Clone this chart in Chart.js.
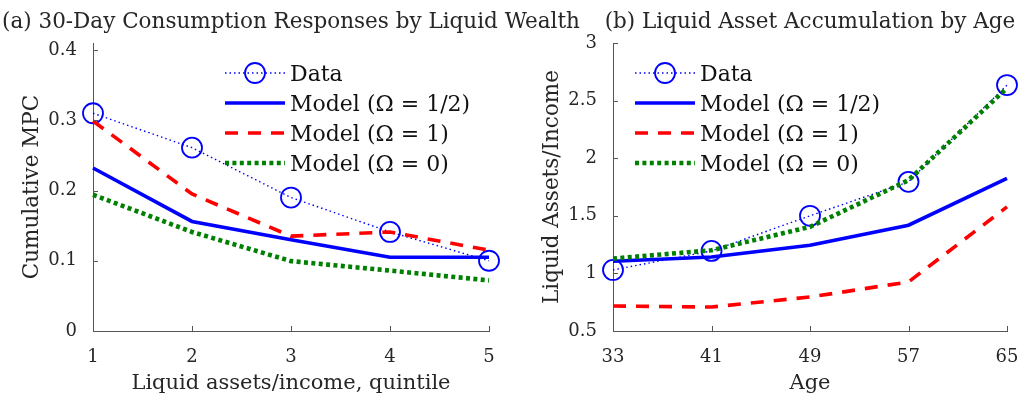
<!DOCTYPE html>
<html>
<head>
<meta charset="utf-8">
<script src="https://cdn.jsdelivr.net/npm/chart.js@4"></script>
<style>
  html, body { margin: 0; padding: 0; background: #fff; }
  body { width: 1019px; height: 394px; position: relative; overflow: hidden; }
  .panel { position: absolute; top: 0; height: 394px; }
  #panelA { left: 0; width: 600px; }
  #panelB { left: 510px; width: 509px; }
</style>
</head>
<body>
<div class="panel" id="panelA"><canvas id="chartA" width="600" height="394"></canvas></div>
<div class="panel" id="panelB"><canvas id="chartB" width="509" height="394"></canvas></div>
<script>
// Panel (a): 30-day cumulative MPC by liquid-wealth quintile
const quintiles = ['1', '2', '3', '4', '5'];
const mpcData  = [0.310, 0.261, 0.190, 0.141, 0.100];
const mpcHalf  = [0.232, 0.156, 0.130, 0.105, 0.105];
const mpcOne   = [0.299, 0.195, 0.135, 0.141, 0.115];
const mpcZero  = [0.194, 0.141, 0.0995, 0.086, 0.072];
const mpcTicks = [0, 0.1, 0.2, 0.3, 0.4];

// Panel (b): liquid assets / income over the life cycle
const ages      = ['33', '41', '49', '57', '65'];
const laiData   = [1.03, 1.195, 1.50, 1.795, 2.635];
const laiHalf   = [1.105, 1.143, 1.245, 1.418, 1.824];
const laiOne    = [0.717, 0.708, 0.795, 0.926, 1.577];
const laiZero   = [1.129, 1.201, 1.404, 1.809, 2.609];
const laiTicks  = [0.5, 1, 1.5, 2, 2.5, 3];

const seriesNames = ['Data', 'Model (\u03A9 = 1/2)', 'Model (\u03A9 = 1)', 'Model (\u03A9 = 0)'];

const SERIF = '"DejaVu Serif", "Liberation Serif", serif';
const TEXT = '#262626';
const AXIS = '#555555';

function makeDatasets(vals) {
  return [
    { label: seriesNames[0], data: vals[0], order: 4,
      borderColor: '#0000ff', borderWidth: 1.4, borderDash: [1.5, 3],
      pointRadius: 10, pointBorderWidth: 1.8, pointBorderColor: '#0000ff',
      pointBackgroundColor: 'rgba(0,0,0,0)', pointStyle: 'circle' },
    { label: seriesNames[1], data: vals[1], order: 3,
      borderColor: '#0000ff', borderWidth: 3.6, pointRadius: 0 },
    { label: seriesNames[2], data: vals[2], order: 2,
      borderColor: '#ff0000', borderWidth: 3.6, borderDash: [13, 10], pointRadius: 0 },
    { label: seriesNames[3], data: vals[3], order: 1,
      borderColor: '#008000', borderWidth: 4.6, borderDash: [4, 3.4], pointRadius: 0 }
  ].map(d => Object.assign({ tension: 0, fill: false, clip: false, borderCapStyle: 'butt' }, d));
}

// Inward tick marks, panel title, axis titles and the in-plot legend
const decor = {
  id: 'decor',
  afterDraw(chart, args, opts) {
    const ctx = chart.ctx;
    const area = chart.chartArea;
    const xs = chart.scales.x, ys = chart.scales.y;
    ctx.save();
    ctx.strokeStyle = AXIS;
    ctx.lineWidth = 1;
    ctx.beginPath();
    xs.ticks.forEach((t, i) => {
      const px = Math.round(xs.getPixelForTick(i)) + 0.5;
      ctx.moveTo(px, area.bottom);
      ctx.lineTo(px, area.bottom - 5);
    });
    ys.ticks.forEach(t => {
      const py = Math.round(ys.getPixelForValue(t.value)) + 0.5;
      ctx.moveTo(area.left, py);
      ctx.lineTo(area.left + 5, py);
    });
    ctx.stroke();

    ctx.fillStyle = TEXT;
    const cx = (area.left + area.right) / 2;
    const cy = (area.top + area.bottom) / 2;
    ctx.textAlign = 'center';
    ctx.textBaseline = 'alphabetic';
    ctx.font = '21.5px ' + SERIF;
    ctx.fillText(opts.title, cx, 28);
    ctx.font = '21px ' + SERIF;
    ctx.fillText(opts.xTitle, cx, 389);
    ctx.save();
    ctx.translate(opts.yTitleX, cy);
    ctx.rotate(-Math.PI / 2);
    ctx.textBaseline = 'middle';
    ctx.font = '21.5px ' + SERIF;
    ctx.fillText(opts.yTitle, 0, 0);
    ctx.restore();

    // legend
    ctx.font = '22px ' + SERIF;
    ctx.textAlign = 'left';
    chart.data.datasets.forEach((ds, i) => {
      const y = opts.legendY + i * 30;
      const x0 = opts.legendX, x1 = opts.legendX + 60;
      ctx.save();
      ctx.strokeStyle = ds.borderColor;
      ctx.lineWidth = ds.borderWidth;
      ctx.setLineDash(ds.borderDash || []);
      ctx.lineCap = 'butt';
      ctx.beginPath();
      ctx.moveTo(x0, y);
      ctx.lineTo(x1, y);
      ctx.stroke();
      if (ds.pointRadius > 0) {
        ctx.setLineDash([]);
        ctx.lineWidth = ds.pointBorderWidth;
        ctx.strokeStyle = ds.pointBorderColor;
        ctx.beginPath();
        ctx.arc((x0 + x1) / 2, y, ds.pointRadius, 0, Math.PI * 2);
        ctx.stroke();
      }
      ctx.restore();
      ctx.fillStyle = '#111111';
      ctx.fillText(ds.label, x1 + 5, y + 8);
    });
    ctx.restore();
  }
};

function makeChart(canvasId, cfg) {
  return new Chart(document.getElementById(canvasId), {
    type: 'line',
    data: { labels: cfg.labels, datasets: makeDatasets(cfg.series) },
    options: {
      responsive: false,
      animation: false,
      events: [],
      devicePixelRatio: 1,
      layout: { padding: { top: 43, right: cfg.padRight, bottom: 0, left: 0 } },
      plugins: {
        legend: { display: false },
        tooltip: { enabled: false },
        decor: cfg.decor
      },
      scales: {
        x: {
          type: 'category',
          offset: false,
          grid: { display: false },
          border: { display: true, color: AXIS, width: 1 },
          ticks: { color: TEXT, font: { family: SERIF, size: 18 }, padding: 8, maxRotation: 0, autoSkip: false },
          afterFit(s) { s.height = 63; s.paddingLeft = 0; s.paddingRight = 0; }
        },
        y: {
          type: 'linear',
          min: cfg.yMin, max: cfg.yMax,
          grid: { display: false },
          border: { display: true, color: AXIS, width: 1 },
          ticks: { color: TEXT, font: { family: SERIF, size: 18 }, padding: 8,
                   callback: v => String(v) },
          afterBuildTicks(s) { s.ticks = cfg.yTicks.map(v => ({ value: v })); },
          afterFit(s) { s.width = cfg.yWidth; s.paddingTop = 0; s.paddingBottom = 0; }
        }
      }
    },
    plugins: [decor]
  });
}

makeChart('chartA', {
  labels: quintiles,
  series: [mpcData, mpcHalf, mpcOne, mpcZero],
  yMin: 0, yMax: 0.41, yTicks: mpcTicks,
  yWidth: 93, padRight: 111,
  decor: {
    title: '(a) 30-Day Consumption Responses by Liquid Wealth',
    xTitle: 'Liquid assets/income, quintile',
    yTitle: 'Cumulative MPC', yTitleX: 32,
    legendX: 225, legendY: 73
  }
});

makeChart('chartB', {
  labels: ages,
  series: [laiData, laiHalf, laiOne, laiZero],
  yMin: 0.5, yMax: 3, yTicks: laiTicks,
  yWidth: 103, padRight: 12,
  decor: {
    title: '(b) Liquid Asset Accumulation by Age',
    xTitle: 'Age',
    yTitle: 'Liquid Assets/Income', yTitleX: 42,
    legendX: 125, legendY: 73
  }
});
</script>
</body>
</html>
